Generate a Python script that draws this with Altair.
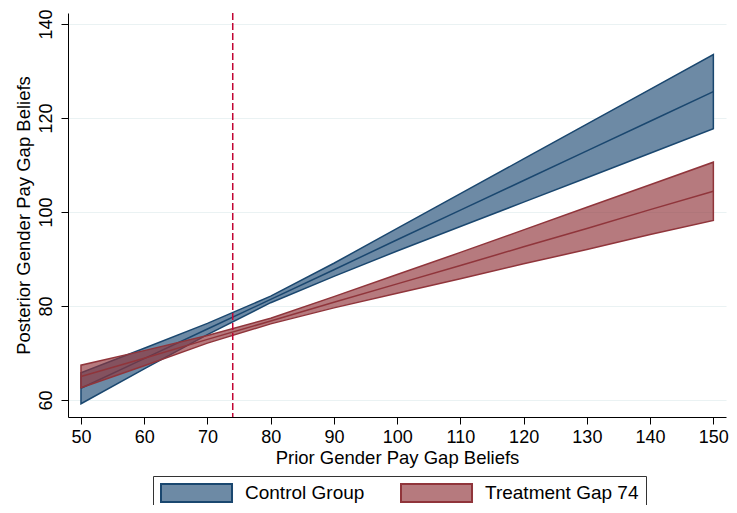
import altair as alt
import pandas as pd

# Prior belief grid
prior = [50, 60, 70, 80, 90, 100, 110, 120, 130, 140, 150]

# Control group: predicted posterior and 95% CI
control_mean = [62.5, 68.8, 75.1, 81.4, 87.7, 94.1, 100.4, 106.7, 113.0, 119.3, 125.6]
control_lo = [59.2, 66.6, 73.9, 80.7, 86.3, 91.7, 96.9, 102.1, 107.3, 112.5, 117.7]
control_hi = [65.8, 71.0, 76.3, 82.1, 89.1, 96.5, 103.9, 111.3, 118.7, 126.1, 133.5]

# Treatment gap 74: predicted posterior and 95% CI
treat_mean = [65.0, 68.9, 72.9, 76.8, 80.8, 84.7, 88.6, 92.6, 96.5, 100.5, 104.4]
treat_lo = [62.6, 67.3, 72.1, 76.2, 79.6, 82.7, 85.8, 89.0, 92.0, 95.2, 98.2]
treat_hi = [67.4, 70.5, 73.7, 77.4, 82.0, 86.7, 91.4, 96.2, 101.0, 105.8, 110.6]

groups = ["Control Group", "Treatment Gap 74"]
treatment_gap = 74

x_ticks = [50, 60, 70, 80, 90, 100, 110, 120, 130, 140, 150]
y_ticks = [60, 80, 100, 120, 140]

rows = []
for i, p in enumerate(prior):
    rows.append({"group": groups[0], "prior": p, "mean": control_mean[i],
                 "lo": control_lo[i], "hi": control_hi[i]})
for i, p in enumerate(prior):
    rows.append({"group": groups[1], "prior": p, "mean": treat_mean[i],
                 "lo": treat_lo[i], "hi": treat_hi[i]})
df = pd.DataFrame(rows)

FONT = "Liberation Sans"

fill_scale = alt.Scale(domain=groups, range=["#6d8aa5", "rgba(144,53,59,0.66)"])
stroke_scale = alt.Scale(domain=groups, range=["#1a476f", "#90353b"])

x_enc = alt.X("prior:Q", scale=alt.Scale(domain=[47.95, 152.0], nice=False, zero=False),
              axis=alt.Axis(values=x_ticks, title="Prior Gender Pay Gap Beliefs",
                            grid=False, tickSize=7, labelPadding=4, titlePadding=2))
y_axis = alt.Axis(values=y_ticks, title="Posterior Gender Pay Gap Beliefs",
                  grid=True, gridColor="#eaf2f3", gridWidth=1.2,
                  tickSize=7, labelAngle=-90, labelPadding=6, titlePadding=4)
y_scale = alt.Scale(domain=[56.38, 142.34], nice=False, zero=False)

legend = alt.Legend(title=None, orient="none", legendX=85, legendY=463,
                    direction="horizontal", strokeColor="#333333", padding=7,
                    symbolType="M-1,-1H6.89V1H-1Z", symbolSize=324,
                    symbolStrokeWidth=2, labelFontSize=19, labelFont=FONT,
                    labelColor="#000000", labelOffset=65, columnPadding=32,
                    labelLimit=300,
                    labelExpr="datum.label == 'Treatment Gap 74' ? datum.label + '\u00a0\u00a0' : datum.label")

def band(g):
    return alt.Chart(df).transform_filter(alt.datum.group == g).mark_area(strokeWidth=1.5).encode(
        x=x_enc,
        y=alt.Y("lo:Q", scale=y_scale, axis=y_axis),
        y2="hi:Q",
        fill=alt.Fill("group:N", scale=fill_scale, legend=legend),
        stroke=alt.Stroke("group:N", scale=stroke_scale, legend=legend),
    )

def line(g):
    return alt.Chart(df).transform_filter(alt.datum.group == g).mark_line(strokeWidth=1.5).encode(
        x=x_enc,
        y=alt.Y("mean:Q", scale=y_scale, axis=y_axis),
        stroke=alt.Stroke("group:N", scale=stroke_scale, legend=legend),
    )

vline = alt.Chart(pd.DataFrame({"gap": [treatment_gap]})).mark_rule(
    color="#c10534", strokeWidth=1.5, strokeDash=[7, 3]).encode(x=alt.X("gap:Q"))

chart = alt.layer(band(groups[0]), line(groups[0]), band(groups[1]), line(groups[1]), vline).properties(
    width=658, height=404,
    autosize=alt.AutoSizeParams(type="none"),
    padding={"left": 60, "top": 5, "right": 3, "bottom": 88},
).configure_view(stroke=None).configure_axis(
    labelFont=FONT, titleFont=FONT, labelFontSize=18, titleFontSize=18.5,
    labelColor="#000000", titleColor="#000000", titleFontWeight="normal",
    domainColor="#000000", tickColor="#000000", domainWidth=1, tickWidth=1,
)

chart.save("out.html", embed_options={"renderer": "svg", "actions": False})
